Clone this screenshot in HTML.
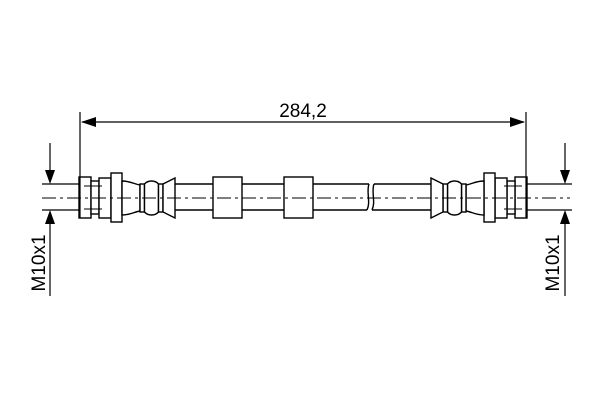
<!DOCTYPE html>
<html><head><style>html,body{margin:0;padding:0;background:#fff}</style></head>
<body>
<svg width="600" height="400" viewBox="0 0 600 400" xmlns="http://www.w3.org/2000/svg">
<defs>
<g id="fit" fill="#fff" stroke="#000" stroke-width="1.4">
  <rect x="79" y="177" width="12" height="41"/>
  <rect x="91" y="181" width="8" height="33"/>
  <rect x="99" y="178" width="12" height="40"/>
  <rect x="111" y="173" width="11" height="49"/>
  <path d="M122,181 C130,181 134,184 140,185 L140,211 C134,212 130,215 122,215 Z"/>
  <rect x="140" y="184" width="4.5" height="28"/>
  <path d="M144.5,184 C148,180 155,180 158.5,184 L158.5,212 C155,216 148,216 144.5,212 Z"/>
  <rect x="158.5" y="184" width="4.5" height="28"/>
  <path d="M163,184 L175,178 L175,218 L163,212 Z"/>
  <g stroke-width="1">
  <line x1="84" y1="186" x2="102" y2="186"/><line x1="84" y1="209" x2="102" y2="209"/>
  </g>
</g>
</defs>
<g stroke="#000" fill="none" stroke-width="1.4">
  <line x1="175" y1="184" x2="369" y2="184"/>
  <line x1="175" y1="210" x2="367" y2="210"/>
  <line x1="374" y1="184" x2="432" y2="184"/>
  <line x1="372" y1="210" x2="432" y2="210"/>
  <path d="M369,184 C366,192 371,202 367,210" />
  <path d="M374,184 C371,192 376,202 372,210" />
  <rect x="213" y="177" width="29" height="41" fill="#fff"/>
  <rect x="284" y="177" width="29" height="41" fill="#fff"/>
</g>
<use href="#fit"/>
<use href="#fit" transform="translate(606,0) scale(-1,1)"/>
<line x1="42" y1="198" x2="570" y2="198" stroke="#000" stroke-width="1" stroke-dasharray="14,4,3,4"/>
<g stroke="#000" stroke-width="1.2" fill="none">
  <line x1="80" y1="112" x2="80" y2="218"/>
  <line x1="526" y1="112" x2="526" y2="218"/>
  <line x1="82" y1="122" x2="524" y2="122"/>
  <line x1="42" y1="184" x2="80" y2="184"/>
  <line x1="42" y1="210" x2="80" y2="210"/>
  <line x1="50" y1="143" x2="50" y2="175"/>
  <line x1="50" y1="218" x2="50" y2="296"/>
  <line x1="526" y1="184" x2="572" y2="184"/>
  <line x1="526" y1="210" x2="572" y2="210"/>
  <line x1="565" y1="143" x2="565" y2="175"/>
  <line x1="565" y1="218" x2="565" y2="296"/>
</g>
<g fill="#000">
  <polygon points="81,122 96,117 96,127"/>
  <polygon points="525,122 510,117 510,127"/>
  <polygon points="50,184 45,170 55,170"/>
  <polygon points="50,210 45,224 55,224"/>
  <polygon points="565,184 560,170 570,170"/>
  <polygon points="565,210 560,224 570,224"/>
</g>
<text x="303" y="117" font-family="Liberation Sans, sans-serif" font-size="19" text-anchor="middle">284,2</text>
<text transform="translate(45,263) rotate(-90)" font-family="Liberation Sans, sans-serif" font-size="19" text-anchor="middle">M10x1</text>
<text transform="translate(559,263) rotate(-90)" font-family="Liberation Sans, sans-serif" font-size="19" text-anchor="middle">M10x1</text>
</svg>
</body></html>
